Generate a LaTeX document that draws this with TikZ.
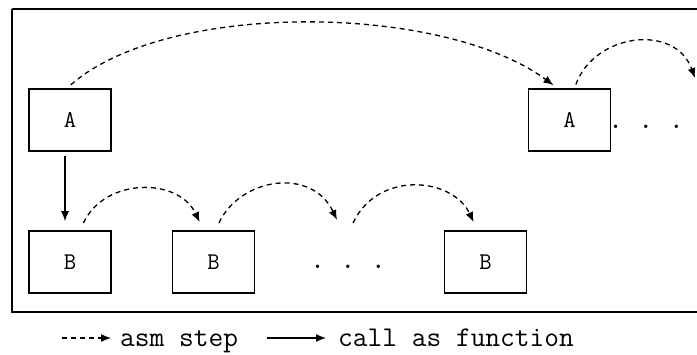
\documentclass[tikz,border=0pt]{standalone}
\usetikzlibrary{arrows.meta}
\begin{document}
\begin{tikzpicture}[x=1pt,y=-1pt,
  frame/.style={draw,line width=1.7pt},
  fbox/.style={draw,line width=1.6pt,minimum width=82pt,minimum height=62pt,inner sep=0pt,font=\fontsize{24}{24}\ttfamily},
  fdots/.style={anchor=base,inner sep=0pt,font=\fontsize{24.8}{25}\ttfamily\bfseries},
  asm/.style={dash pattern=on 5pt off 4pt,line width=1.3pt,-{Latex[length=10pt,width=8pt]}},
  call/.style={line width=1.3pt,-{Latex[length=10pt,width=8pt]}},
  legend/.style={anchor=base west,inner sep=0pt,font=\fontsize{28.6}{29}\ttfamily}]
 \useasboundingbox (0,0) rectangle (697,354);
 \draw [frame] (12,9) -- (720,9) (12,9) -- (12,312) -- (720,312);
 % upper row
 \node [fbox] (A1) at (70,120) {A};
 \node [fbox] (A2) at (569.5,120) {A};
 \node [fdots] (dotsA) at (646,128) {. . .};
 % lower row
 \node [fbox] (B1) at (70,262) {B};
 \node [fbox] (B2) at (213.5,262) {B};
 \node [fdots] (dotsB) at (348,268) {. . .};
 \node [fbox] (B3) at (485.5,262) {B};
 \coordinate (off) at (695,78);
 \coordinate (dotsin) at (337,220);
 \coordinate (dotsout) at (353,223);
 % connectors
 \draw [call,shorten <=4pt,shorten >=9pt] ([xshift=-5pt]A1.south) -- ([xshift=-5pt]B1.north);
 \draw [asm,shorten <=5pt,shorten >=5pt] ([xshift=-3pt]A1.north) .. controls +(100,-88) and +(-115,-85) .. ([xshift=-12pt]A2.north);
 \draw [asm,shorten <=4pt] ([xshift=5pt]A2.north) .. controls +(20,-55) and +(-20,-55) .. (off);
 \draw [asm,shorten <=8pt,shorten >=9pt] ([xshift=10pt]B1.north) .. controls +(25,-53) and +(-25,-53) .. ([xshift=-10pt]B2.north);
 \draw [asm,shorten <=8pt] ([xshift=2pt]B2.north) .. controls +(25,-53) and +(-25,-53) .. (dotsin);
 \draw [asm,shorten >=9pt] (dotsout) .. controls +(25,-53) and +(-25,-53) .. ([xshift=-8pt]B3.north);
 % legend
 \node [legend] (asmtext) at (120,346) {asm step};
 \node [legend] (calltext) at (338,346) {call as function};
 \coordinate (asmstart) at (62,338);
 \coordinate (callstart) at (267,338);
 \draw [asm,shorten >=9pt] (asmstart) -- (asmstart -| asmtext.west);
 \draw [call,shorten >=12pt] (callstart) -- (callstart -| calltext.west);
\end{tikzpicture}
\end{document}
